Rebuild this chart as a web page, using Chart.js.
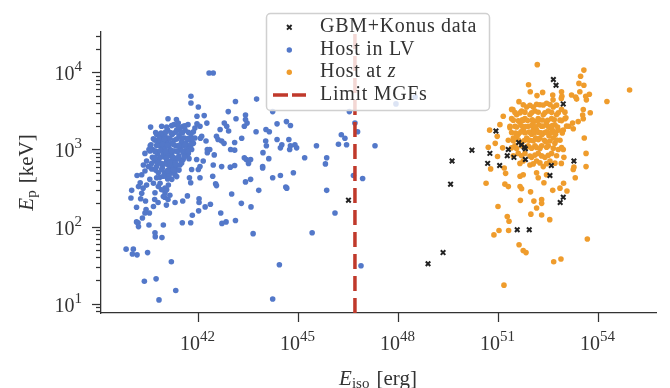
<!DOCTYPE html>
<html>
<head>
<meta charset="utf-8">
<script src="https://cdn.jsdelivr.net/npm/chart.js@4.4.0/dist/chart.umd.min.js"></script>
<style>
  html, body { margin: 0; padding: 0; background: #fff; }
  #wrap { width: 670px; height: 388px; }
</style>
</head>
<body>
<div id="wrap"><canvas id="scatter" width="670" height="388"></canvas></div>
<script>
// axis ranges and ticks
var xRange = [1.2e39, 5.4e55],
    yRange = [7.57, 33400];
var xTicks = [1e42, 1e45, 1e48, 1e51, 1e54],
    xTickExp = ["42", "45", "48", "51", "54"];
var yTicks = [1e1, 1e2, 1e3, 1e4],
    yTickExp = ["1", "2", "3", "4"];

// limit for magnetar giant flares
var mgfLimit = 5.0e46;

// [E_iso (erg), E_p (keV)]
var gbmKonus = [
  [4.5e52,8100],[5.4e52,6800],[8.9e52,3900],[8.5e50,1740],[1.62e50,980],[4.1e49,710],
  [3.7e49,355],[4.8e50,660],[5.6e50,890],[1.1e51,620],[2.0e51,1000],[1.86e51,830],
  [2.95e51,790],[4.1e51,1230],[5.0e51,1150],[6.0e51,1070],[6.5e51,1020],[6.5e51,740],
  [3.9e52,620],[3.55e52,460],[1.86e53,710],[8.9e52,240],[7.2e52,205],[3.7e51,91],
  [8.5e51,91],[2.2e49,46],[7.8e48,33],[3.2e46,220]
];

var hostLV = [
  [2.1e42,9800],[2.8e42,9800],[6.0e41,4900],[6.0e41,4000],[1.0e42,3550],[1.3e43,4200],[5.6e43,4500],
  [1.7e44,3100],[3.4e46,3100],[5.0e46,2200],[6.0e46,1700],[2.0e47,1120],[1.95e46,1550],[2.5e46,1400],
  [1.6e46,1170],[2.8e46,1150],[3.5e45,1120],[7.1e45,780],[6.5e45,650],[1.55e45,780],[7.1e44,500],
  [4.5e46,460],[8.5e46,420],[7.1e45,295],[1.26e46,150],[2.6e45,83],[7.6e46,31],[2.7e44,32],
  [1.7e44,11.5],[4.4e43,81],[1.3e43,120],[6.8e42,115],[5.1e42,110],[4.7e42,150],[1.0e43,265],
  [1.95e43,200],[3.8e43,180],[6.5e43,295],[2.6e43,380],[3.7e43,410],[1.7e44,430],[2.9e44,460],
  [4.2e44,325],[4.5e44,315],[8.5e43,600],[8.5e43,575],[1.3e44,760],[8.7e43,910],[1.1e44,1120],
  [1.05e44,1290],[2.3e44,1350],[3.2e44,1150],[2.9e44,1050],[5.2e44,1350],[5.8e44,1120],[5.5e44,1000],
  [7.9e44,1150],[8.9e44,1050],[4.4e44,2300],[5.8e44,2050],[2.3e44,2150],[1.07e44,1820],[1.35e44,1700],
  [5.4e43,1700],[2.0e43,1400],[2.4e43,2000],[2.9e43,2200],[2.6e43,2800],[2.6e43,2450],[1.35e43,2500],
  [7.9e42,3100],[6.0e42,2200],[7.1e42,2000],[8.1e42,1740],[4.5e42,1820],[3.9e42,1350],[5.0e42,1290],
  [3.5e42,1480],[1.23e43,1230],[1.23e43,980],[9.3e42,1000],[5.9e42,1200],[2.75e43,740],[3.2e43,660],
  [2.4e43,780],[3.7e43,740],[1.23e43,620],[9.1e42,590],[5.0e42,600],[3.0e42,850],[1.86e42,1000],
  [2.8e42,630],[2.7e42,450],[3.3e42,360],[3.5e42,340],[2.3e42,195],[1.6e42,180],[1.05e42,230],
  [1.05e42,205],[1.02e42,160],[6.6e41,140],[5.9e41,112],[3.3e41,112],[4.7e41,250],[3.4e41,215],
  [2.0e41,205],[1.1e41,190],[1.23e41,225],[9.8e40,240],[8.9e40,105],[8.1e40,72],[5.0e40,83],
  [5.1e40,74],[3.3e40,105],[1.55e40,112],[1.6e40,100],[1.4e40,115],[2.1e40,129],[2.5e40,150],
  [1.4e40,178],[2.7e40,166],[3.4e40,150],[4.5e40,182],[2.6e40,215],[4.9e40,225],[6.2e40,205],
  [9.5e39,235],[1.0e40,295],[1.86e40,230],[2.0e40,270],[1.6e40,330],[1.8e40,370],[2.2e40,315],
  [2.8e40,345],[1.45e40,460],[2.0e40,470],[2.5e40,525],[3.7e40,1950],[1.23e41,2500],[3.6e40,1120],
  [4.3e40,1000],[3.3e40,1000],[7.1e40,1550],[8.5e40,1400],[8.9e40,1580],[7.9e40,1350],[2.2e41,2450],
  [2.5e41,2200],[1.86e41,2100],[2.8e41,1820],[3.5e41,2000],[4.9e41,2100],[7.9e41,1900],[9.1e41,2150],
  [1.12e42,2000],[5.0e41,1400],[7.1e41,1700],[1.15e42,1400],[9.1e41,2700],[1.5e42,2750],[1.8e42,2200],
  [1.26e42,1480],[1.7e42,1290],[2.2e42,1000],[1.86e42,910],[8.9e41,740],[1.12e42,600],[1.4e42,710],
  [1.0e42,550],[6.3e41,550],[5.4e41,430],[5.9e41,370],[1.12e42,430],[5.0e41,890],[4.5e41,850],
  [3.5e41,740],[2.8e41,630],[2.2e41,550],[2.0e41,470],[1.6e41,410],[1.26e41,345],[1.12e41,300],
  [1.0e41,275],[1.4e41,255],[1.0e41,315],[4.5e40,365],[3.5e40,410],[5.6e40,430],[7.1e40,365],
  [7.9e40,300],[6.3e40,330],[5.0e40,275],[8.9e40,245],[6.8e39,51],[1.12e40,51],[1.05e40,44],
  [1.45e40,43],[3.0e40,46],[1.55e41,35],[2.4e40,19.5],[5.4e40,21],[2.1e41,14.8],[6.6e40,11.2],
  [8.5e47,3900],[3.2e48,4800]
];

// crowded core of the local-volume cloud
var hostLVCore = [
  [5.6e40,1580],[6.3e40,1260],[7.1e40,1120],[7.9e40,1000],[8.9e40,890],[1.0e41,790],[1.12e41,710],
  [1.26e41,630],[6.0e40,890],[6.6e40,760],[7.6e40,660],[8.3e40,575],[9.5e40,500],[1.05e41,460],
  [1.2e41,415],[1.0e41,1510],[1.12e41,1260],[1.26e41,1120],[1.41e41,1000],[1.58e41,890],[1.78e41,790],
  [2.0e41,710],[2.24e41,630],[1.2e41,1780],[1.32e41,1410],[1.51e41,1200],[1.66e41,1580],[1.91e41,1320],
  [2.09e41,1120],[2.4e41,955],[2.63e41,830],[3.02e41,725],[1.41e41,560],[1.58e41,500],[1.78e41,600],
  [2.0e41,525],[2.51e41,760],[2.82e41,1050],[3.16e41,1260],[3.55e41,1120],[2.24e41,1780],[2.63e41,1510],
  [3.02e41,1660],[3.8e41,1410],[4.17e41,1200],[4.47e41,1000],[3.98e41,830],[3.55e41,910],[5.0e40,1320],
  [5.25e40,955],[4.8e40,710],[4.17e40,790],[5.6e40,600],[6.3e40,500],[7.1e40,435],[4.0e40,560],
  [8.9e40,1320],[1.0e41,1050],[1.12e41,910],[1.26e41,830],[1.32e41,500],[1.51e41,710],[1.66e41,660],
  [1.91e41,955],[5.0e41,1120],[5.6e41,1320],[6.3e41,1000],[5.25e41,760],[7.1e41,1200],[7.9e41,1410],
  [6.0e41,1580],[4.0e41,1780],[2.8e40,710],[3.16e40,600],[2.5e40,890],[2.24e40,630],
  [7.94e40,2000],[1.12e41,1960],[1.58e41,2040],[2.51e41,1980],[3.98e41,2030],
  [5.25e40,1660],[7.59e40,1630],[1.05e41,1690],[1.51e41,1650],[2.09e41,1680],[3.31e41,1640],[5.01e41,1670],
  [4.47e40,1380],[6.61e40,1400],[9.55e40,1360],[1.41e41,1390],[2.24e41,1370],[3.16e41,1400],[4.79e41,1360],[6.61e41,1380],
  [3.8e40,1150],[5.62e40,1130],[8.32e40,1170],[1.2e41,1140],[1.78e41,1160],[2.63e41,1130],[3.98e41,1170],[6.03e41,1150],
  [3.55e40,955],[5.01e40,940],[7.24e40,970],[1.05e41,950],[1.58e41,965],[2.29e41,945],[3.31e41,960],[5.01e41,950],
  [5.01e40,790],[7.59e40,800],[1.12e41,780],[1.66e41,795],[2.51e41,785],[3.8e41,800],
  [3.98e40,660],[6.03e40,670],[9.55e40,650],[1.41e41,665],[2.09e41,655],[3.16e41,670],
  [5.25e40,540],[7.94e40,550],[1.2e41,535],[1.78e41,545],[2.63e41,540],
  [8.91e40,450],[1.32e41,455],[2.24e41,445]
];

var hostZ = [
  [1.48e52,12600],[3.7e53,10700],[2.95e53,8900],[2.63e53,7200],[3.7e53,6800],[8.7e54,5900],[1.82e54,4200],
  [8.1e51,6900],[9.1e51,5600],[1.45e52,5000],[2.14e52,5500],[4.3e52,5100],[7.9e52,5600],[8.1e52,4900],
  [1.58e53,5100],[2.1e53,4800],[2.8e53,5600],[4.2e53,4900],[5.4e53,5200],[4.4e53,4400],[2.24e53,4500],
  [7.8e52,4600],[4.4e52,4400],[3.55e53,3300],[5.75e53,3000],[3.4e53,2800],[3.55e53,2500],[2.5e53,2300],
  [1.7e53,2200],[1.78e53,1860],[1.32e53,2000],[1.07e53,2570],[3.8e53,1410],[4.3e53,890],[4.3e53,600],
  [2.04e53,430],[4.7e53,69],[7.6e52,38],[4.6e52,35],[9.1e52,365],[1.15e53,290],[7.1e52,315],
  [4.3e52,295],[9.3e52,790],[8.9e52,1000],[7.8e52,660],[1.86e53,590],[1.78e53,550],[3.5e52,123],
  [2.0e52,141],[2.0e52,224],[2.0e52,200],[1.41e52,174],[1.17e52,214],[9.5e51,145],[9.3e51,282],
  [4.6e51,219],[9.8e50,182],[1.86e51,135],[2.1e51,117],[2.04e51,89],[1.05e51,89],[7.4e50,78],
  [4.2e51,58],[5.6e51,49],[6.8e51,46],[1.48e51,17.4],[4.3e50,365],[1.58e51,355],[2.0e51,330],
  [4.5e51,330],[5.0e51,310],[4.5e51,450],[5.6e51,470],[1.58e52,430],[1.41e52,500],[2.34e52,370],
  [2.8e52,470],[5.5e50,1780],[9.3e50,1480],[1.41e51,2700],[1.12e51,2100],[5.0e50,1070],[8.1e50,1200],
  [9.5e50,810],[5.9e50,560],[1.35e51,1050],[1.66e51,490],[1.51e51,575],[2.75e51,3300]
];

// crowded core of the high-redshift cloud
var hostZCore = [
  [2.51e51,2510],[3.16e51,2000],[3.55e51,2820],[3.98e51,1580],[4.47e51,2240],[5.0e51,3160],[5.6e51,1780],
  [6.3e51,2510],[7.1e51,1410],[7.9e51,2000],[8.9e51,2820],[1.0e52,1580],[1.12e52,2240],[1.26e52,3160],
  [1.41e52,1780],[1.58e52,2510],[1.78e52,1410],[2.0e52,2000],[2.24e52,2820],[2.51e52,1660],[2.82e52,2240],
  [3.16e52,3160],[3.55e52,1910],[3.98e52,2510],[4.47e52,1410],[5.0e52,2090],[5.6e52,2820],[6.3e52,1780],
  [7.1e52,2400],[7.9e52,3310],[2.82e51,1410],[3.16e51,1120],[3.98e51,890],[5.0e51,1120],[6.3e51,890],
  [7.9e51,1120],[1.0e52,790],[1.26e52,1120],[1.58e52,890],[2.0e52,1120],[2.51e52,790],[3.16e52,1120],
  [3.98e52,890],[5.0e52,1200],[5.6e51,710],[8.9e51,630],[1.41e52,710],[2.24e52,600],[3.55e52,710],
  [1.12e52,3550],[1.78e52,3800],[2.82e52,3980],[4.47e52,3550],[7.1e51,3550],[2.24e51,1910],[2.82e51,830],
  [7.1e52,1320],[8.9e52,1780],[1.0e53,2510],[6.3e52,1000],[4.17e51,4170],[2.51e51,3310],[3.55e51,1510],
  [4.47e51,1260],[5.6e51,2400],[8.9e51,1320],[1.12e52,1780],[1.32e52,1410],[1.66e52,2090],[2.09e52,1580],
  [2.63e52,1260],[3.31e52,1510],[4.17e52,1780],[5.25e52,1580],
  [5.62e51,3800],[8.91e51,3750],[1.41e52,3850],[2.24e52,3780],[3.55e52,3820],[5.62e52,3760],
  [3.16e51,3020],[4.47e51,2980],[6.31e51,3050],[1.0e52,3000],[1.58e52,3040],[2.51e52,2990],[3.98e52,3030],[6.31e52,3000],[1.0e53,3050],
  [2.82e51,2400],[3.98e51,2360],[5.25e51,2430],[7.59e51,2380],[1.05e52,2420],[1.51e52,2370],[2.09e52,2410],[3.02e52,2390],[4.79e52,2430],[7.94e52,2370],
  [2.24e51,2000],[3.55e51,1960],[5.01e51,2030],[6.61e51,1980],[1.0e52,2050],[1.32e52,1970],[2.24e52,2020],[3.16e52,1990],[4.17e52,2040],[6.03e52,1960],[1.12e53,2010],
  [2.51e51,1660],[3.31e51,1630],[4.79e51,1690],[6.31e51,1650],[8.32e51,1680],[1.2e52,1640],[1.58e52,1670],[1.91e52,1640],[2.82e52,1690],[3.8e52,1650],[5.01e52,1680],[8.32e52,1640],
  [2.0e51,1320],[2.82e51,1300],[3.98e51,1340],[6.03e51,1310],[7.94e51,1330],[1.12e52,1300],[1.58e52,1340],[2.4e52,1320],[3.55e52,1290],[5.62e52,1330],
  [2.51e51,1050],[3.55e51,1030],[7.08e51,1070],[1.0e52,1040],[1.41e52,1060],[1.78e52,1030],[2.82e52,1070],[4.47e52,1040],[7.94e52,1060],
  [5.01e51,830],[8.91e51,820],[1.26e52,845],[2.0e52,825],[3.16e52,840],[5.62e52,830],
  [4.47e51,660],[1.12e52,650],[1.78e52,670],[2.82e52,655],[5.01e52,665]
];

var colLV = "#5378c9", colZ = "#ef9c2c", colGBM = "#222222", colMGF = "#c0392b";
var ink = "#333333";
var serif = '"Liberation Serif", "DejaVu Serif", serif';

function toXY(arr) {
  return arr.map(function (p) { return { x: p[0], y: p[1] }; });
}

// draw a row of text pieces, each piece: [text, font, dy, gapAfter]
function drawRuns(ctx, parts, x, y, align) {
  var total = 0;
  parts.forEach(function (p) {
    ctx.font = p[1];
    p.w = ctx.measureText(p[0]).width + (p[3] || 0);
    total += p.w;
  });
  var cx = align === "center" ? x - total / 2 : align === "right" ? x - total : x;
  parts.forEach(function (p) {
    ctx.font = p[1];
    ctx.fillText(p[0], cx, y + (p[2] || 0));
    cx += p.w;
  });
}

var axisText = {
  id: "axisText",
  afterDraw: function (chart) {
    var ctx = chart.ctx, a = chart.chartArea, sx = chart.scales.x, sy = chart.scales.y;
    ctx.save();
    ctx.strokeStyle = ink;
    ctx.fillStyle = ink;
    ctx.lineWidth = 1.25;
    ctx.textBaseline = "alphabetic";
    ctx.textAlign = "left";

    // x ticks
    xTicks.forEach(function (v, i) {
      var px = Math.round(sx.getPixelForValue(v)) + 0.5;
      ctx.beginPath(); ctx.moveTo(px, a.bottom); ctx.lineTo(px, a.bottom + 9); ctx.stroke();
      drawRuns(ctx, [["10", "20px " + serif], [xTickExp[i], "15px " + serif, -8.5]], px - 1, 349.5, "center");
    });

    // y ticks, major + minor
    for (var d = 0; d <= 4; d++) {
      for (var k = 2; k <= 9; k++) {
        var v = k * Math.pow(10, d);
        if (v < yRange[0] || v > yRange[1]) continue;
        var py = Math.round(sy.getPixelForValue(v)) + 0.5;
        ctx.beginPath(); ctx.moveTo(a.left, py); ctx.lineTo(a.left - 5, py); ctx.stroke();
      }
    }
    yTicks.forEach(function (v, i) {
      var py = Math.round(sy.getPixelForValue(v)) + 0.5;
      ctx.beginPath(); ctx.moveTo(a.left, py); ctx.lineTo(a.left - 9, py); ctx.stroke();
      drawRuns(ctx, [["10", "20px " + serif], [yTickExp[i], "15px " + serif, -8.5]], 82, py + 7, "right");
    });

    // axis titles
    drawRuns(ctx, [["E", "italic 21px " + serif], ["iso", "15px " + serif, 3, 7], ["[erg]", "21px " + serif]],
      378, 385, "center");
    ctx.save();
    ctx.translate(33, (a.top + a.bottom) / 2);
    ctx.rotate(-Math.PI / 2);
    drawRuns(ctx, [["E", "italic 21px " + serif], ["p", "15px " + serif, 3, 7], ["[keV]", "21px " + serif]],
      0, 0, "center");
    ctx.restore();

    // legend
    var bx = 266.5, by = 13.5, bw = 223, bh = 97;
    ctx.beginPath();
    ctx.roundRect(bx, by, bw, bh, 4);
    ctx.fillStyle = "rgba(255,255,255,0.8)";
    ctx.fill();
    ctx.strokeStyle = "#d0d0d0";
    ctx.lineWidth = 1.5;
    ctx.stroke();

    var rows = [32.3, 55, 77.3, 100], mx = 289.3, tx = 320;
    var items = chart.data.datasets.filter(function (ds) { return ds.label; });
    ctx.letterSpacing = "0.7px";
    items.forEach(function (ds, i) {
      var ty = rows[i], cy = ty - 5;
      if (ds.showLine) {
        ctx.strokeStyle = ds.borderColor;
        ctx.lineWidth = 3.5;
        ctx.setLineDash([15, 4]);
        ctx.beginPath(); ctx.moveTo(273, cy); ctx.lineTo(306, cy); ctx.stroke();
        ctx.setLineDash([]);
      } else if (ds.pointStyle === "crossRot") {
        ctx.strokeStyle = ds.borderColor;
        ctx.lineWidth = 1.9;
        ctx.beginPath();
        ctx.moveTo(mx - 2.3, cy - 2.3); ctx.lineTo(mx + 2.3, cy + 2.3);
        ctx.moveTo(mx - 2.3, cy + 2.3); ctx.lineTo(mx + 2.3, cy - 2.3);
        ctx.stroke();
      } else {
        ctx.fillStyle = ds.backgroundColor;
        ctx.beginPath(); ctx.arc(mx, cy, 2.7, 0, Math.PI * 2); ctx.fill();
      }
      ctx.fillStyle = ink;
      var lab = ds.label;
      if (/ z$/.test(lab)) {
        drawRuns(ctx, [[lab.slice(0, -1), "20px " + serif], ["z", "italic 20px " + serif]], tx, ty, "left");
      } else {
        ctx.font = "20px " + serif;
        ctx.fillText(lab, tx, ty);
      }
    });
    ctx.restore();
  }
};

var ctx = document.getElementById("scatter").getContext("2d");

var chart = new Chart(ctx, {
  type: "scatter",
  data: {
    datasets: [
      {
        label: "GBM+Konus data",
        data: toXY(gbmKonus),
        pointStyle: "crossRot",
        pointRadius: 3.2,
        borderColor: colGBM,
        backgroundColor: colGBM,
        borderWidth: 2,
      },
      {
        label: "Host in LV",
        data: toXY(hostLV.concat(hostLVCore)),
        pointRadius: 2.8,
        backgroundColor: colLV,
        borderWidth: 0,
        order: 2,
      },
      {
        label: "Host at z",
        data: toXY(hostZ.concat(hostZCore)),
        pointRadius: 2.8,
        backgroundColor: colZ,
        borderWidth: 0,
        order: 3,
      },
      {
        label: "Limit MGFs",
        data: [{ x: mgfLimit, y: yRange[0] }, { x: mgfLimit, y: yRange[1] }],
        showLine: true,
        borderColor: colMGF,
        borderWidth: 3.5,
        borderDash: [15, 7],
        pointRadius: 0,
        order: 1,
      },
    ],
  },
  options: {
    responsive: false,
    devicePixelRatio: 1,
    animation: false,
    events: [],
    layout: { autoPadding: false, padding: { left: 0, right: 14, top: 32, bottom: 0 } },
    plugins: { legend: { display: false }, tooltip: { enabled: false } },
    scales: {
      x: {
        type: "logarithmic",
        min: xRange[0],
        max: xRange[1],
        grid: { display: false },
        ticks: { display: false },
        border: { display: true, color: ink, width: 1.3 },
        afterFit: function (s) { s.height = 75; },
      },
      y: {
        type: "logarithmic",
        min: yRange[0],
        max: yRange[1],
        grid: { display: false },
        ticks: { display: false },
        border: { display: true, color: ink, width: 1.3 },
        afterFit: function (s) { s.width = 101; },
      },
    },
  },
  plugins: [axisText],
});
</script>
</body>
</html>
